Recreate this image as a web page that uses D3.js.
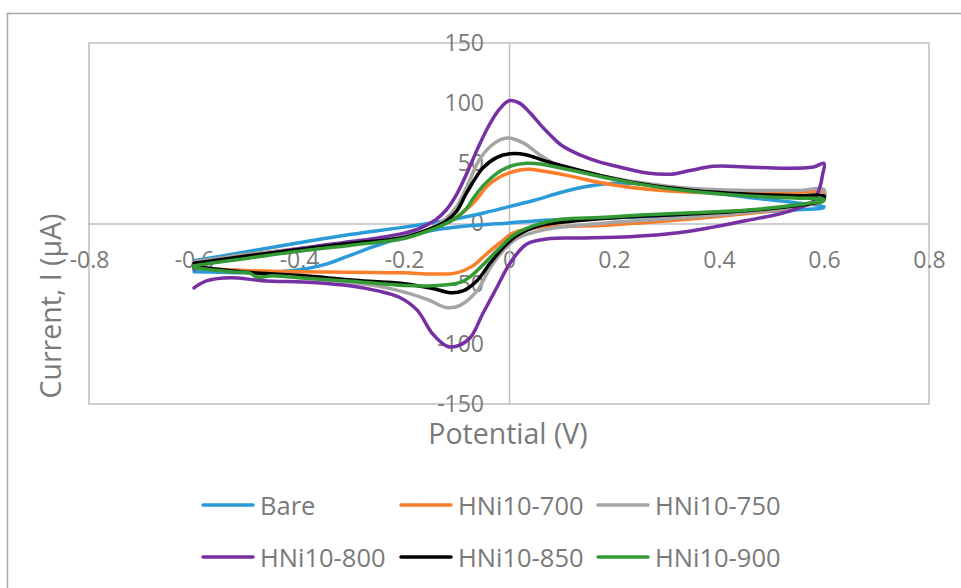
<!DOCTYPE html>
<html>
<head>
<meta charset="utf-8">
<script src="https://cdn.jsdelivr.net/npm/d3@7"></script>
<style>
  body { margin: 0; background: #fff; }
  text { font-family: "Open Sans", "Noto Sans", sans-serif; fill: #7a7a7a; }
</style>
</head>
<body>
<div id="chart-area"></div>
<script>
// series: [potential (V), current (uA)], anodic sweep then cathodic sweep
var bare = [[-0.6,-31],[-0.5,-23.5],[-0.4,-16],[-0.3,-9],[-0.2,-3],[-0.1,4],[-0.05,8.5],[0,14],[0.05,19.5],[0.1,26],[0.15,31],[0.2,33.5],[0.25,33],[0.3,30.5],[0.35,28],[0.45,22],[0.55,17],[0.6,14],
  [0.598,13],[0.55,11.5],[0.45,9],[0.35,7],[0.25,5.5],[0.15,4],[0.08,3],[0,0.5],[-0.1,-3],[-0.15,-6],[-0.2,-11],[-0.25,-18],[-0.3,-26],[-0.35,-34],[-0.4,-38.5],[-0.45,-40.5],[-0.5,-41],[-0.55,-40.5],[-0.6,-40]];

var hni700 = [[-0.6,-32],[-0.5,-26],[-0.4,-21],[-0.3,-16.5],[-0.2,-12],[-0.15,-5],[-0.12,0],[-0.1,5],[-0.08,12],[-0.06,21],[-0.042,31],[-0.02,38],[0,42],[0.021,44.5],[0.04,45],[0.059,44],[0.11,40],[0.173,34],[0.25,29],[0.35,26],[0.45,26],[0.55,26],[0.6,26],
  [0.598,19],[0.58,16.5],[0.55,13.5],[0.45,8],[0.35,4],[0.25,0.5],[0.173,-1.7],[0.1,-2.5],[0.059,-3],[0.008,-8],[-0.017,-16],[-0.042,-25],[-0.068,-35],[-0.1,-41],[-0.145,-42],[-0.2,-41],[-0.3,-40.5],[-0.4,-40],[-0.5,-39],[-0.6,-37]];

var hni750 = [[-0.6,-32],[-0.5,-26],[-0.4,-21],[-0.3,-16],[-0.2,-11],[-0.15,-4],[-0.12,4],[-0.1,14],[-0.08,31],[-0.055,54],[-0.03,66],[-0.004,71],[0.027,67],[0.059,57],[0.09,49],[0.12,45],[0.173,40],[0.25,34],[0.35,29],[0.45,27.5],[0.55,27.5],[0.6,28],
  [0.598,20],[0.58,17],[0.55,14],[0.45,9],[0.35,5.5],[0.25,2.5],[0.173,0],[0.1,-3],[0.059,-6],[0.015,-12.5],[-0.011,-22.5],[-0.036,-37],[-0.061,-56],[-0.093,-68],[-0.118,-70],[-0.156,-63],[-0.208,-56],[-0.25,-52],[-0.3,-49],[-0.4,-45],[-0.5,-41],[-0.6,-37]];

var hni800 = [[-0.6,-38],[-0.58,-34],[-0.5,-28],[-0.4,-21],[-0.3,-15],[-0.25,-12],[-0.2,-8],[-0.17,-4],[-0.14,3],[-0.12,11],[-0.1,24],[-0.08,42],[-0.06,62],[-0.04,80],[-0.02,94],[0,102],[0.02,100],[0.04,92],[0.06,82],[0.08,73],[0.1,65],[0.135,57],[0.173,51],[0.2,48],[0.263,42],[0.31,41],[0.345,44],[0.39,47.5],[0.45,47],[0.52,46],[0.58,47],[0.6,50],
  [0.597,40],[0.592,30],[0.58,19],[0.55,12.5],[0.516,8],[0.453,2.5],[0.389,-3],[0.326,-7.5],[0.23,-11],[0.135,-12],[0.078,-12.5],[0.034,-17],[0.002,-33],[-0.023,-53],[-0.05,-75],[-0.074,-95],[-0.1,-102],[-0.118,-102],[-0.145,-92],[-0.175,-72],[-0.208,-61.5],[-0.25,-56],[-0.3,-52],[-0.373,-49],[-0.47,-47.5],[-0.53,-45],[-0.575,-47.5],[-0.6,-53.5]];

var hni850 = [[-0.6,-33],[-0.5,-27],[-0.4,-21.5],[-0.3,-16.5],[-0.2,-11.5],[-0.15,-4.5],[-0.12,2],[-0.1,10],[-0.08,26],[-0.05,46],[-0.023,55],[0.002,58],[0.034,57],[0.065,52.5],[0.11,47],[0.173,40],[0.25,33],[0.35,27.5],[0.45,24.5],[0.55,23],[0.6,23],
  [0.598,19],[0.58,17],[0.55,15],[0.45,10.5],[0.35,8],[0.25,6],[0.173,4],[0.1,1],[0.059,-1.7],[0.015,-10],[-0.011,-20],[-0.036,-33],[-0.061,-47.5],[-0.088,-56],[-0.112,-57.5],[-0.145,-54],[-0.2,-50],[-0.25,-48.5],[-0.3,-47],[-0.373,-44],[-0.5,-40.5],[-0.6,-36]];

var hni900 = [[-0.6,-35],[-0.5,-29],[-0.4,-23],[-0.3,-18],[-0.2,-12.5],[-0.15,-5.5],[-0.12,0],[-0.1,5],[-0.08,13],[-0.068,21],[-0.05,31],[-0.036,37],[-0.015,44],[0.005,48],[0.034,50],[0.06,49.5],[0.078,48],[0.122,44],[0.173,39],[0.25,32.5],[0.35,26.5],[0.45,23],[0.55,21],[0.6,20],
  [0.598,18.5],[0.58,17.5],[0.55,15.5],[0.45,11],[0.35,9],[0.25,7],[0.173,5],[0.1,3.5],[0.046,-2],[0.008,-10],[-0.017,-20],[-0.042,-31],[-0.068,-42],[-0.093,-49],[-0.145,-51.7],[-0.2,-51.5],[-0.3,-48],[-0.373,-46],[-0.45,-43.5],[-0.48,-44.5],[-0.495,-41],[-0.52,-40.5],[-0.6,-37]];

var seriesNames = ["Bare", "HNi10-700", "HNi10-750", "HNi10-800", "HNi10-850", "HNi10-900"];
var seriesData = [bare, hni700, hni750, hni800, hni850, hni900];
var colors = ["#2a9bd8", "#fb7e2a", "#a5a5a5", "#7630a4", "#000000", "#339a35"];

var xTicks = [-0.8, -0.6, -0.4, -0.2, 0, 0.2, 0.4, 0.6, 0.8];
var xTickLabels = ["-0.8", "-0.6", "-0.4", "-0.2", "0", "0.2", "0.4", "0.6", "0.8"];
var yTicks = [-150, -100, -50, 0, 50, 100, 150];
var yTickLabels = ["-150", "-100", "-50", "0", "50", "100", "150"];

var width = 961, height = 588;

var svg = d3.select("#chart-area")
  .append("svg")
  .attr("width", width)
  .attr("height", height);

// chart border
svg.append("rect")
  .attr("x", 7.5).attr("y", 13.5)
  .attr("width", width + 10).attr("height", height + 10)
  .attr("fill", "none")
  .attr("stroke", "#a6a6a6")
  .attr("stroke-width", 1.5);

var x = d3.scaleLinear().domain([-0.8, 0.8]).range([89, 929]);
var y = d3.scaleLinear().domain([-150, 150]).range([404, 43]);

// plot area border
svg.append("rect")
  .attr("x", x(-0.8)).attr("y", y(150))
  .attr("width", x(0.8) - x(-0.8)).attr("height", y(-150) - y(150))
  .attr("fill", "none")
  .attr("stroke", "#bfbfbf")
  .attr("stroke-width", 1.5);

var xAxis = svg.append("g")
  .attr("transform", "translate(0," + y(0) + ")")
  .call(d3.axisBottom(x).tickValues(xTicks).tickSize(0).tickPadding(28)
    .tickFormat((d, i) => xTickLabels[i]));

var yAxis = svg.append("g")
  .attr("transform", "translate(" + x(0) + ",0)")
  .call(d3.axisLeft(y).tickValues(yTicks).tickSize(0).tickPadding(25)
    .tickFormat((d, i) => yTickLabels[i]));

[xAxis, yAxis].forEach(g => {
  g.select(".domain").attr("stroke", "#bfbfbf").attr("stroke-width", 1.5);
  g.selectAll("text")
    .attr("fill", "#7a7a7a")
    .style("font-size", "23px")
    .style("font-family", "'Open Sans', sans-serif");
});

var line = d3.line()
  .x(d => x(d[0]))
  .y(d => y(d[1]))
  .curve(d3.curveCatmullRom.alpha(0.5));

svg.selectAll(".series")
  .data(seriesData)
  .enter()
  .append("path")
    .attr("class", "series")
    .attr("d", d => line(d))
    .attr("fill", "none")
    .attr("stroke", (d, i) => colors[i])
    .attr("stroke-width", 3.5)
    .attr("stroke-linejoin", "round")
    .attr("stroke-linecap", "round");

// axis titles
svg.append("text")
  .attr("x", 508).attr("y", 433)
  .attr("text-anchor", "middle")
  .attr("dominant-baseline", "central")
  .style("font-size", "28.5px")
  .text("Potential (V)");

svg.append("text")
  .attr("transform", "translate(50,306) rotate(-90)")
  .attr("text-anchor", "middle")
  .attr("dominant-baseline", "central")
  .style("font-size", "28.5px")
  .text("Current, I (µA)");

// legend
var legendX = [203, 401, 598];
var legendY = [505, 557];

var legend = svg.selectAll(".legend")
  .data(seriesNames)
  .enter()
  .append("g")
    .attr("class", "legend")
    .attr("transform", (d, i) => "translate(" + legendX[i % 3] + "," + legendY[Math.floor(i / 3)] + ")");

legend.append("line")
  .attr("x1", 0).attr("x2", 50)
  .attr("y1", 0).attr("y2", 0)
  .attr("stroke", (d, i) => colors[i])
  .attr("stroke-width", 3.5)
  .attr("stroke-linecap", "round");

legend.append("text")
  .attr("x", 57)
  .attr("y", 0)
  .attr("dominant-baseline", "central")
  .style("font-size", "25.5px")
  .text(d => d);
</script>
</body>
</html>
